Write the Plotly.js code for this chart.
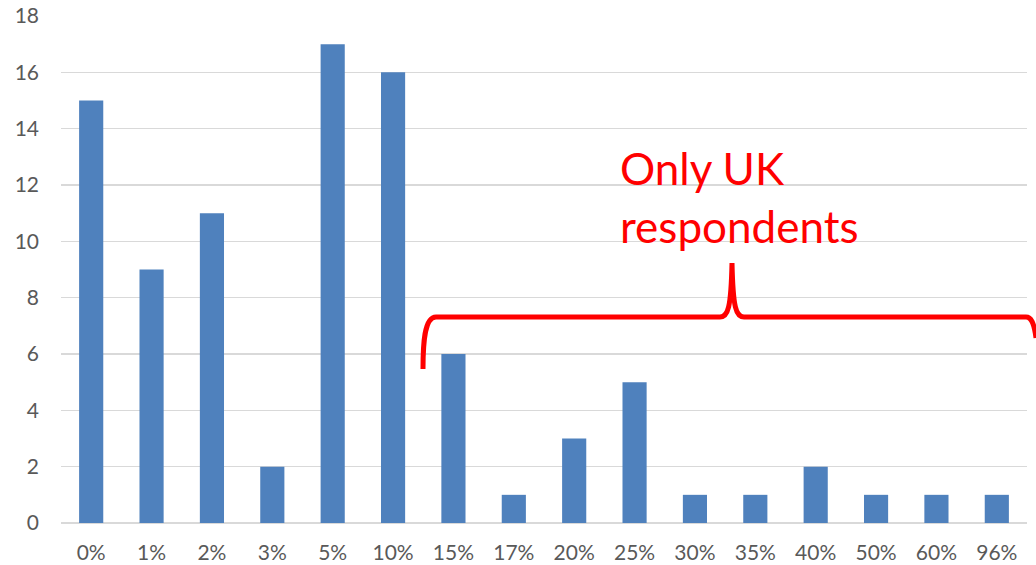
<!DOCTYPE html>
<html>
<head>
<meta charset="utf-8">
<script src="https://cdn.plot.ly/plotly-3.0.1.min.js"></script>
<style>html,body{margin:0;padding:0;background:#fff;}#chart{width:1036px;height:565px;}</style>
</head>
<body>
<div id="chart"></div>
<script>
const categories = ["0%","1%","2%","3%","5%","10%","15%","17%","20%","25%","30%","35%","40%","50%","60%","96%"];
const counts = [15,9,11,2,17,16,6,1,3,5,1,1,2,1,1,1];
const yTicks = [0,2,4,6,8,10,12,14,16,18];

const W = 1036, H = 565;
const M = {l:61, r:9, t:16, b:42};
const pw = W - M.l - M.r, ph = H - M.t - M.b;
function px(x){ return (x - M.l) / pw; }
function py(y){ return (H - M.b - y) / ph; }

const pts = [
  ["M",423,369],
  ["C",423,345, 424,317, 436,317],
  ["L",720,317],
  ["C",728,317, 731,308, 732,263],
  ["C",733,308, 736,317, 744,317],
  ["L",1026,317],
  ["C",1031,317, 1034,322, 1036,338]
];
let path = "";
pts.forEach(p => {
  path += p[0];
  const nums = [];
  for (let i = 1; i < p.length; i += 2) nums.push(px(p[i]).toFixed(5) + "," + py(p[i+1]).toFixed(5));
  path += nums.join(" ") + " ";
});

const trace = {
  type: "bar",
  x: categories,
  y: counts,
  marker: {color: "#4f81bd"},
  hoverinfo: "x+y"
};

const tickFont = {family: "Lato, 'Open Sans', sans-serif", size: 21, color: "#595959"};

const layout = {
  width: W, height: H,
  margin: M,
  paper_bgcolor: "#fff",
  plot_bgcolor: "#fff",
  showlegend: false,
  bargap: 0.6,
  xaxis: {
    type: "category",
    tickfont: tickFont,
    ticks: "",
    showgrid: false,
    showline: false,
    zeroline: false,
    ticklabelstandoff: 15
  },
  yaxis: {
    range: [0, 18],
    tickvals: yTicks,
    ticktext: yTicks.map(String),
    tickfont: tickFont,
    ticks: "",
    showgrid: true,
    gridcolor: "#d9d9d9",
    gridwidth: 1.3,
    zeroline: true,
    zerolinecolor: "#d9d9d9",
    zerolinewidth: 1.3,
    showline: false,
    ticklabelstandoff: 21
  },
  shapes: [{
    type: "path",
    xref: "paper", yref: "paper",
    path: path,
    line: {color: "#ff0000", width: 5}
  }],
  annotations: [
    {xref:"paper", yref:"paper", x: px(618), y: py(168), xanchor:"left", yanchor:"middle",
     text:"Only UK", showarrow:false, font:{family:"Lato, 'Open Sans', sans-serif", size:44, color:"#ff0000"}},
    {xref:"paper", yref:"paper", x: px(618), y: py(226), xanchor:"left", yanchor:"middle",
     text:"respondents", showarrow:false, font:{family:"Lato, 'Open Sans', sans-serif", size:44, color:"#ff0000"}}
  ]
};

Plotly.newPlot("chart", [trace], layout, {displayModeBar: false, staticPlot: true});
</script>
</body>
</html>
